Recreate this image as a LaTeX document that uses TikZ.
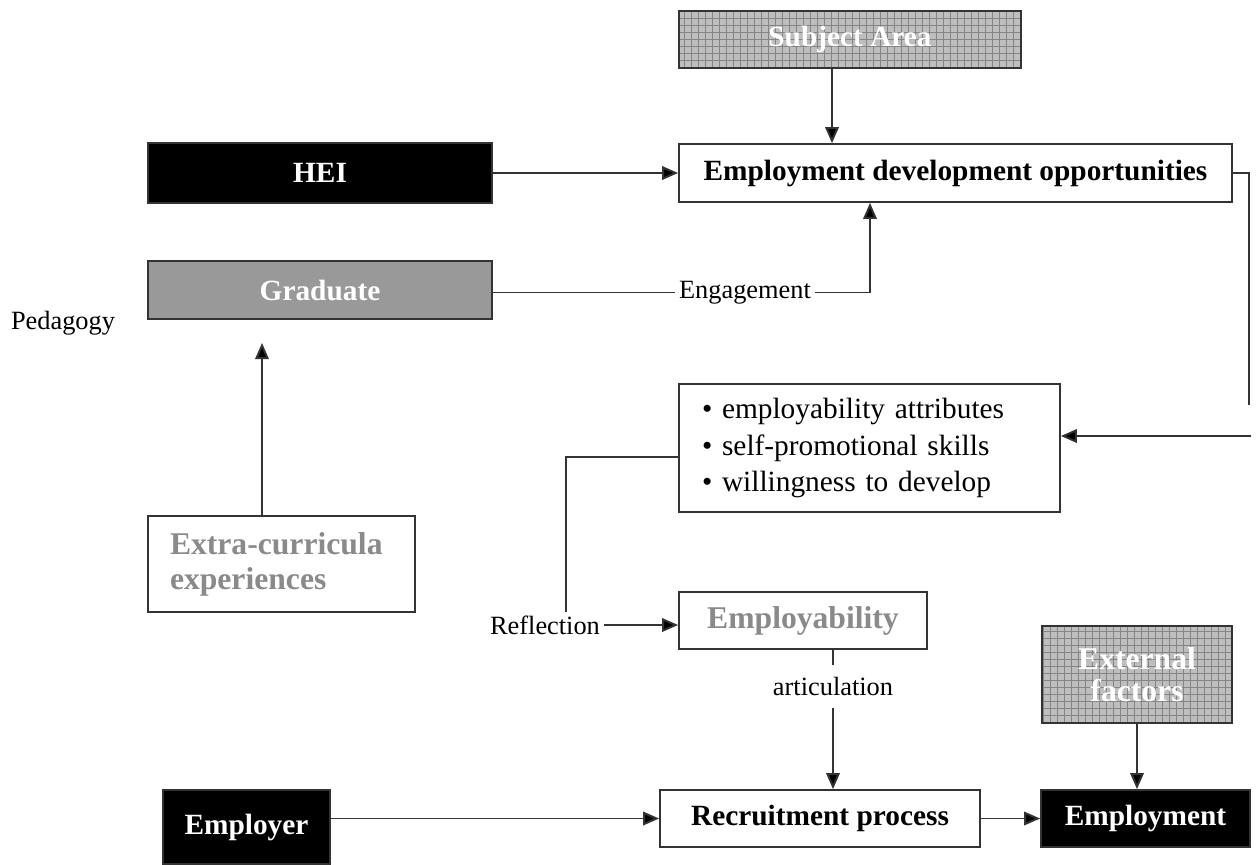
\documentclass[tikz,border=0pt]{standalone}
\usepackage{fontspec}
\setmainfont{Liberation Serif}
\usetikzlibrary{positioning, arrows.meta, calc}
\definecolor{lineGrey}{HTML}{333333}
\definecolor{boxGrey}{HTML}{999999}
\definecolor{gridFill}{HTML}{BEBEBE}
\definecolor{gridLine}{HTML}{858585}
\definecolor{softText}{HTML}{8A8A8A}

\begin{document}
\begin{tikzpicture}[
    every node/.style={font=\fontsize{16.7pt}{20pt}\selectfont\bfseries, align=center},
    plainbox/.style={
        rectangle, draw=lineGrey, fill=white, line width=1pt, inner sep=2pt
    },
    blackbox/.style={plainbox, fill=black, text=white},
    greybox/.style={plainbox, fill=boxGrey, text=white},
    gridbox/.style={
        plainbox, fill=gridFill, text=white,
        path picture={\draw[gridLine, line width=0.4pt]
            (path picture bounding box.south west) grid[step=0.14cm]
            (path picture bounding box.north east);}
    },
    softbox/.style={plainbox, text=softText, font=\fontsize{18pt}{20pt}\selectfont\bfseries},
    linklabel/.style={font=\fontsize{15pt}{18pt}\selectfont, inner sep=2pt},
    arrow/.style={-{Triangle[length=0.32cm, width=0.27cm, fill=black]}, line width=1.1pt, draw=lineGrey},
    link/.style={line width=1.1pt, draw=lineGrey},
]
\useasboundingbox (0,0) rectangle (25.12,-17.28);

% === TOP ROW ===
\node[gridbox, minimum width=6.84cm, minimum height=1.14cm] (subject) at (17.0,-0.79) {Subject Area};
\node[plainbox, minimum width=11.06cm, minimum height=1.16cm] (edo) at (19.11,-3.46)
    {Employment development opportunities};

% === HEI / GRADUATE ===
\node[blackbox, minimum width=6.88cm, minimum height=1.2cm] (hei) at (6.4,-3.46) {HEI};
\node[greybox, minimum width=6.88cm, minimum height=1.16cm] (graduate) at (6.4,-5.8) {Graduate};
\node[linklabel] (pedagogy) at (1.26,-6.46) {Pedagogy};
\node[linklabel] (engage) at (14.9,-5.85) {Engagement};

% === ATTRIBUTES ===
\node[plainbox, minimum width=7.62cm, minimum height=2.56cm, text width=6.7cm,
    inner xsep=0.46cm, align=left, font=\fontsize{16.7pt}{21pt}\selectfont] (attrib) at (17.39,-8.96)
    {\textbullet\ employability attributes\\
     \textbullet\ self-promotional skills\\
     \textbullet\ willingness to develop};

\node[softbox, minimum width=5.34cm, minimum height=1.92cm, text width=4.46cm,
    inner xsep=0.44cm, align=left] (extra) at (5.63,-11.28) {Extra-curricula\\experiences};

% === EMPLOYABILITY ===
\node[linklabel] (reflect) at (10.9,-12.5) {Reflection};
\node[softbox, minimum width=4.96cm, minimum height=1.14cm] (employab) at (16.06,-12.41) {Employability};
\node[linklabel, inner ysep=0.24cm] (artic) at (16.66,-13.73) {articulation};
\node[gridbox, minimum width=3.8cm, minimum height=1.94cm,
    font=\fontsize{18pt}{18pt}\selectfont\bfseries] (external) at (22.74,-13.49) {External\\factors};

% === BOTTOM ROW ===
\node[blackbox, minimum width=3.34cm, minimum height=1.48cm] (employer) at (4.93,-16.54) {Employer};
\node[plainbox, minimum width=6.4cm, minimum height=1.14cm] (recruit) at (16.4,-16.37) {Recruitment process};
\node[blackbox, minimum width=4.18cm, minimum height=1.14cm] (employment) at (22.91,-16.37) {Employment};

% === ARROWS ===
% subject area -> opportunities
\draw[arrow] ([xshift=-0.36cm]subject.south) -- ([xshift=-0.36cm]subject.south |- edo.north);

% HEI -> opportunities
\draw[arrow] (hei) -- (edo);

% graduate -- engagement -> opportunities
\coordinate (engtop) at (17.4,-5.85);
\draw[link] (graduate.east |- engage) -- (engage);
\draw[arrow] (engage) -- (engtop) -- (engtop |- edo.south);

% opportunities -> attributes (right side)
\coordinate (rdrop) at (24.98,-8.1);
\coordinate (rentry) at (25.02,-8.72);
\draw[link] (edo.east) -| (rdrop);
\draw[arrow] (rentry) -- (rentry -| attrib.east);

% attributes -- reflection -> employability
\draw[link] ([yshift=-0.18cm]attrib.west) -| ([xshift=0.42cm]reflect.north);
\draw[arrow] (reflect) -- (reflect -| employab.west);

% extra-curricula -> graduate
\coordinate (gradtip) at (5.24,-6.86);
\draw[arrow] (extra.north -| gradtip) -- (gradtip);

% employability -- articulation -> recruitment
\draw[link] (artic.north |- employab.south) -- (artic.north);
\draw[arrow] (artic.south) -- (artic.south |- recruit.north);

% employer -> recruitment -> employment
\draw[arrow] (employer.east |- recruit.west) -- (recruit.west);
\draw[arrow] (recruit) -- (employment);

% external factors -> employment
\draw[arrow] (external.south) -- (external.south |- employment.north);
\end{tikzpicture}
\end{document}
